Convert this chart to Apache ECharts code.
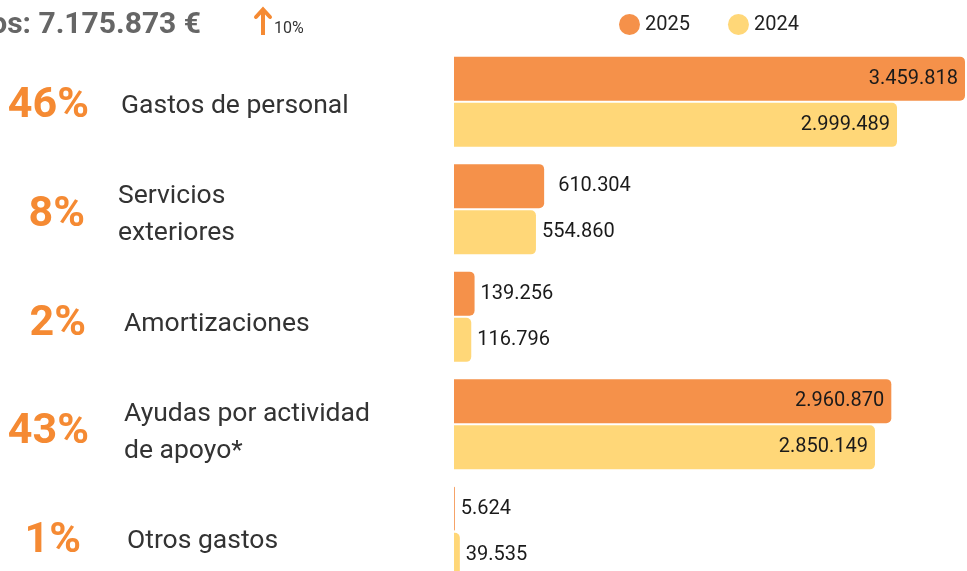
<!DOCTYPE html>
<html>
<head>
<meta charset="utf-8">
<script src="https://cdn.jsdelivr.net/npm/echarts@6/dist/echarts.min.js"></script>
<style>
html,body{margin:0;padding:0;background:#fff;overflow:hidden;width:967px;height:571px;}
#chart{width:967px;height:600px;}
</style>
</head>
<body>
<div id="chart"></div>
<script>
// ---- data ----
const categories = ['Gastos de personal', 'Servicios\nexteriores', 'Amortizaciones', 'Ayudas por actividad\nde apoyo*', 'Otros gastos'];
const percentages = ['46%', '8%', '2%', '43%', '1%'];
const seriesNames = ['2025', '2024'];
const values2025 = [3459818, 610304, 139256, 2960870, 5624];
const values2024 = [2999489, 554860, 116796, 2850149, 39535];
const titleText = 'Gastos: 7.175.873 €';
const changeText = '10%';

// ---- styles ----
const ORANGE = '#F5914A';
const YELLOW = '#FFD778';
const ACCENT = '#F58A33';
const namePadLeft = [3, 0, 6, 6, 9];
const pctPadRight = [0, 4, 3, 0, 8];

const nameLabelStyle = {
  align: 'left',
  verticalAlign: 'middle',
  fontFamily: 'Roboto',
  fontSize: 26.5,
  lineHeight: 37,
  color: '#333'
};
const pctLabelStyle = {
  align: 'right',
  verticalAlign: 'middle',
  fontFamily: 'Roboto',
  fontWeight: 'bold',
  fontSize: 43,
  color: ACCENT
};

function fmt(v) {
  return String(v).replace(/\B(?=(\d{3})+(?!\d))/g, '.');
}
function makeData(arr, distOverride) {
  return arr.map((v, i) => ({
    value: v,
    label: v > 1000000
      ? { position: 'insideRight', distance: 7 }
      : { position: 'right', distance: (distOverride && distOverride[i]) || 6 }
  }));
}

const chart = echarts.init(document.getElementById('chart'), null, { renderer: 'canvas' });
chart.setOption({
  animation: false,
  backgroundColor: '#fff',
  legend: {
    data: seriesNames,
    left: 614,
    top: 9,
    icon: 'circle',
    itemWidth: 21,
    itemHeight: 21,
    itemGap: 38,
    itemTextGap: 10,
    textStyle: { fontFamily: 'Roboto', fontSize: 20, color: '#222' }
  },
  grid: [
    { left: 454, top: 48, width: 511, height: 537.5, containLabel: false, outerBoundsMode: 'none' },
    { left: 454, top: 52, width: 511, height: 543.75, containLabel: false, outerBoundsMode: 'none' }
  ],
  xAxis: [
    { type: 'value', gridIndex: 0, min: 0, max: v => v.max, show: false },
    { type: 'value', gridIndex: 1, min: 0, max: 1, show: false }
  ],
  yAxis: [
    {
      type: 'category',
      gridIndex: 0,
      data: categories,
      inverse: true,
      show: false
    },
    {
      type: 'category',
      gridIndex: 1,
      data: categories.map((c, i) => ({
        value: c,
        textStyle: Object.assign({}, nameLabelStyle, { padding: [0, 0, 0, namePadLeft[i]] })
      })),
      inverse: true,
      position: 'left',
      axisLine: { show: false },
      axisTick: { show: false },
      splitLine: { show: false },
      axisLabel: Object.assign({ margin: 336 }, nameLabelStyle)
    },
    {
      type: 'category',
      gridIndex: 1,
      data: percentages.map((p, i) => ({
        value: p,
        textStyle: Object.assign({}, pctLabelStyle, { padding: [0, pctPadRight[i], 0, 0] })
      })),
      inverse: true,
      position: 'left',
      offset: 0,
      axisLine: { show: false },
      axisTick: { show: false },
      splitLine: { show: false },
      axisLabel: Object.assign({ margin: 365 }, pctLabelStyle)
    }
  ],
  series: [
    {
      name: seriesNames[0],
      type: 'bar',
      xAxisIndex: 0,
      yAxisIndex: 0,
      data: makeData(values2025, { 1: 14 }),
      barWidth: 44,
      barGap: '5%',
      itemStyle: { color: ORANGE, borderRadius: [0, 5, 5, 0] },
      label: {
        show: true,
        formatter: p => fmt(p.value),
        fontFamily: 'Roboto',
        fontSize: 20,
        color: '#1a1a1a'
      }
    },
    {
      name: seriesNames[1],
      type: 'bar',
      xAxisIndex: 0,
      yAxisIndex: 0,
      data: makeData(values2024),
      barWidth: 44,
      barGap: '5%',
      itemStyle: { color: YELLOW, borderRadius: [0, 5, 5, 0] },
      label: {
        show: true,
        formatter: p => fmt(p.value),
        fontFamily: 'Roboto',
        fontSize: 20,
        color: '#1a1a1a'
      }
    }
  ],
  graphic: [
    {
      type: 'text',
      x: 201,
      y: 25,
      style: {
        text: titleText,
        align: 'right',
        verticalAlign: 'middle',
        fontFamily: 'Roboto',
        fontWeight: 'bold',
        fontSize: 30,
        fill: '#666'
      }
    },
    {
      type: 'polyline',
      shape: { points: [[263, 35], [263, 10]] },
      style: { stroke: ACCENT, lineWidth: 4, lineCap: 'butt' }
    },
    {
      type: 'polyline',
      shape: { points: [[256, 17], [263, 9.5], [270, 17]] },
      style: { stroke: ACCENT, lineWidth: 4, lineCap: 'round', lineJoin: 'miter', fill: null }
    },
    {
      type: 'text',
      x: 274,
      y: 29,
      style: {
        text: changeText,
        align: 'left',
        verticalAlign: 'middle',
        fontFamily: 'Roboto',
        fontSize: 16,
        fill: '#333'
      }
    }
  ]
});
</script>
</body>
</html>
